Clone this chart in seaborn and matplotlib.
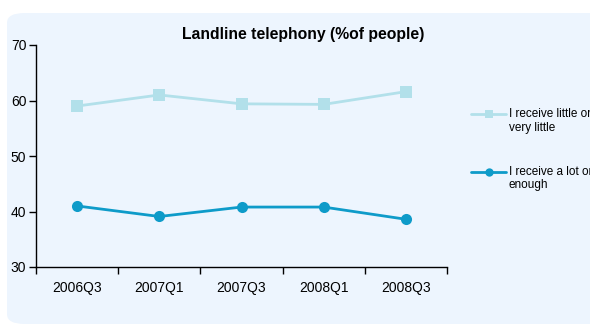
import matplotlib
matplotlib.use("Agg")
import matplotlib.pyplot as plt
from matplotlib.patches import FancyBboxPatch
from matplotlib.legend_handler import HandlerLine2D
import numpy as np
import pandas as pd
import seaborn as sns

periods = ["2006Q3", "2007Q1", "2007Q3", "2008Q1", "2008Q3"]
little = [59.0, 61.0, 59.4, 59.3, 61.6]
lot = [41.0, 39.1, 40.8, 40.8, 38.6]
series_names = ["I receive little or\nvery little", "I receive a lot or\nenough"]
y_ticks = [30, 40, 50, 60, 70]

sns.set_style("white")
plt.rcParams["font.family"] = ["Liberation Sans", "DejaVu Sans"]
plt.rcParams["text.color"] = "black"
plt.rcParams["xtick.color"] = "black"
plt.rcParams["ytick.color"] = "black"


class FirstLineHandler(HandlerLine2D):
    """Legend key aligned with the first line of a two-line label."""

    def create_artists(self, legend, orig_handle, xdescent, ydescent,
                       width, height, fontsize, trans):
        artists = super().create_artists(legend, orig_handle, xdescent, ydescent,
                                         width, height, fontsize, trans)
        for a in artists:
            a.set_ydata(np.asarray(a.get_ydata()) + 0.6 * fontsize)
        return artists


df = pd.DataFrame({
    "period": periods * 2,
    "value": little + lot,
    "series": [series_names[0]] * len(periods) + [series_names[1]] * len(periods),
})

fig = plt.figure(figsize=(5.9, 3.26), dpi=100)
fig.patch.set_facecolor("white")

# rounded light-blue panel behind the chart
panel = FancyBboxPatch((7 / 590, 2 / 326), 600 / 590, 311 / 326,
                       boxstyle="round,pad=0,rounding_size=0.03",
                       transform=fig.transFigure, facecolor="#EDF5FE",
                       edgecolor="none", zorder=-10)
fig.patches.append(panel)

ax = fig.add_axes([36 / 590, 1 - 267 / 326, 411 / 590, 222 / 326])
ax.set_facecolor("none")
ax.set_zorder(1)

palette = {series_names[0]: "#B2E0EA", series_names[1]: "#0E9BC9"}
sns.lineplot(data=df, x="period", y="value", hue="series", style="series",
             palette=palette, markers={series_names[0]: "s", series_names[1]: "o"},
             dashes=False, linewidth=2.0, markersize=8, markeredgewidth=0,
             ax=ax, sort=False)

ax.set_xlim(-0.5, len(periods) - 0.5)
ax.set_ylim(30, 70)
ax.set_yticks(y_ticks)
ax.set_xticks(range(len(periods)))
ax.set_xticklabels(periods)
ax.set_xticks([i - 0.5 for i in range(len(periods) + 1)], minor=True)
ax.tick_params(axis="x", which="major", bottom=True, length=0, pad=10, labelsize=10)
ax.tick_params(axis="x", which="minor", bottom=True, length=5, width=1,
               direction="out", color="black")
ax.tick_params(axis="y", left=True, length=5, width=1, direction="out",
               color="black", labelsize=10, pad=2)
ax.set_xlabel("")
ax.set_ylabel("")
for side in ["top", "right"]:
    ax.spines[side].set_visible(False)
for side in ["left", "bottom"]:
    ax.spines[side].set_color("black")
    ax.spines[side].set_linewidth(1)

fig.text(303 / 590, 1 - 34 / 326, "Landline telephony (%of people)",
         ha="center", va="center", fontsize=11.3, fontweight="bold", color="black")

handles, labels = ax.get_legend_handles_labels()
ax.legend(handles, labels, loc="upper left", bbox_to_anchor=(465 / 590, 1 - 102 / 326),
          bbox_transform=fig.transFigure, frameon=False, fontsize=8.5,
          handlelength=3.0, handletextpad=0.2, labelspacing=2.7, borderpad=0,
          markerscale=0.75,
          handler_map={h: FirstLineHandler() for h in handles})

fig.savefig("out.png", dpi=100)
